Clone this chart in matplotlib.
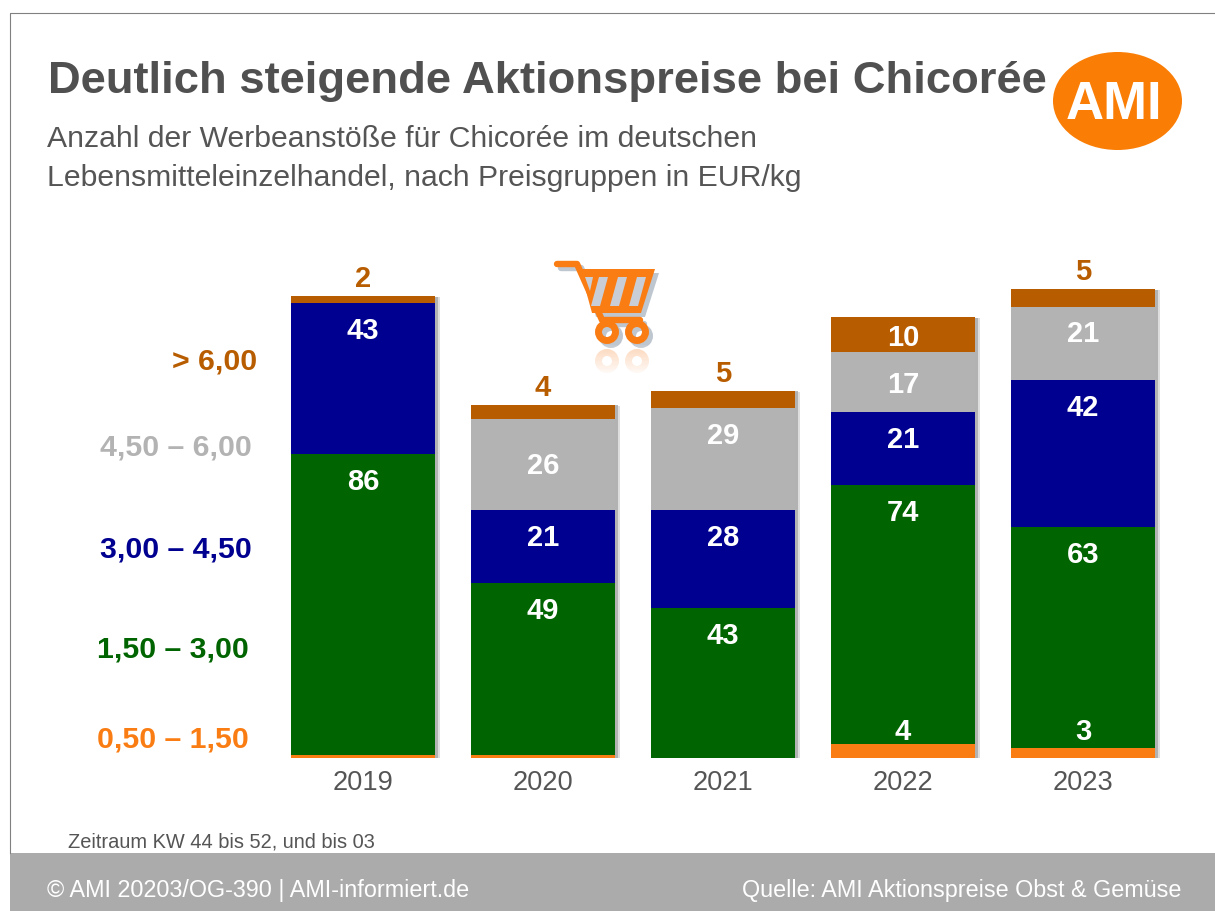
import matplotlib
matplotlib.use("Agg")
import matplotlib.pyplot as plt
import matplotlib.patheffects as pe
from matplotlib.colors import LinearSegmentedColormap
from matplotlib.patches import Ellipse, Polygon, Circle, Rectangle
import numpy as np

plt.rcParams['font.family'] = ['Liberation Sans', 'DejaVu Sans']

years = ['2019', '2020', '2021', '2022', '2023']
groups = ['0,50 – 1,50', '1,50 – 3,00', '3,00 – 4,50', '4,50 – 6,00', '> 6,00']
v_050_150 = [1, 1, 0, 4, 3]
v_150_300 = [86, 49, 43, 74, 63]
v_300_450 = [43, 21, 28, 21, 42]
v_450_600 = [0, 26, 29, 17, 21]
v_600_up = [2, 4, 5, 10, 5]
series = [v_050_150, v_150_300, v_300_450, v_450_600, v_600_up]
colors = ['#FA7D14', '#006400', '#000090', '#B3B3B3', '#B85C00']
group_pos = [(97, 740), (97, 649), (100, 550), (100, 447), (172, 362)]

W, H = 1215, 911
TEXT = '#555555'

fig = plt.figure(figsize=(W / 100, H / 100), dpi=100)

# page decoration in pixel coordinates
bg = fig.add_axes([0, 0, 1, 1])
bg.set_xlim(0, W)
bg.set_ylim(H, 0)
bg.axis('off')
bg.plot([10, 10, W], [853, 13, 13], color='#808080', lw=0.8)
bg.add_patch(Rectangle((10, 853), W - 10, 58, color='#ABABAB', lw=0))

bg.text(48, 81, 'Deutlich steigende Aktionspreise bei Chicorée', fontsize=32.65,
        fontweight='bold', color='#505050', va='center', ha='left')
bg.text(47, 139, 'Anzahl der Werbeanstöße für Chicorée im deutschen', fontsize=21.7,
        color=TEXT, va='center', ha='left')
bg.text(47, 178, 'Lebensmitteleinzelhandel, nach Preisgruppen in EUR/kg', fontsize=21.7,
        color=TEXT, va='center', ha='left')
bg.text(68, 842, 'Zeitraum KW 44 bis 52, und bis 03', fontsize=14.4, color=TEXT,
        va='center', ha='left')
bg.text(47, 890, '© AMI 20203/OG-390 | AMI-informiert.de', fontsize=16.85, color='white',
        va='center', ha='left')
bg.text(1181, 890, 'Quelle: AMI Aktionspreise Obst & Gemüse', fontsize=16.85, color='white',
        va='center', ha='right')

# logo
bg.add_patch(Ellipse((1117.5, 101), 129, 98, color='#FA7D05', lw=0))
bg.text(1114, 105, 'AMI', fontsize=38, fontweight='bold', color='white',
        va='center', ha='center')


def cart(dx, dy, color, slit, zorder=3):
    # pole, rail and handle
    bg.plot(np.array([557, 577, 602, 640]) + dx, np.array([264, 264, 320, 320]) + dy,
            color=color, lw=4.6, solid_capstyle='round', solid_joinstyle='round', zorder=zorder)
    # basket with slits
    bg.add_patch(Polygon(np.array([(580, 269), (655, 269), (641, 313), (592, 313)]) + (dx, dy),
                         closed=True, color=color, lw=0, zorder=zorder))
    if slit:
        bg.add_patch(Polygon([(585, 277), (593, 277), (590, 291)], closed=True,
                             color=slit, lw=0, zorder=zorder))
        for xt in (599, 618, 637):
            bg.add_patch(Polygon([(xt, 277), (xt + 9, 277), (xt + 1, 306), (xt - 8, 306)],
                                 closed=True, color=slit, lw=0, zorder=zorder))
    for cx in (607, 637):
        bg.add_patch(Circle((cx + dx, 332 + dy), 8.5, fill=False, ec=color, lw=5, zorder=zorder))


cart(4, 4, '#BEC6D0', None, zorder=2)
cart(0, 0, '#FA7D14', '#C9CED6', zorder=3)

# reflection of the cart wheels, fading out
for cx in (607, 637):
    bg.add_patch(Circle((cx, 361), 8.5, fill=False, ec='#FCD3B4', lw=5, zorder=2))
fade = np.linspace(0, 1, 30)[:, None]
cmap = LinearSegmentedColormap.from_list('fade', [(1, 1, 1, 0.1), (1, 1, 1, 1)])
bg.imshow(fade, extent=(590, 655, 378, 345), origin='upper', cmap=cmap, aspect='auto', zorder=2.5)
bg.set_xlim(0, W)
bg.set_ylim(H, 0)

# bars: 3.5 px per unit, 180 px between the years
ax = fig.add_axes([273 / W, 1 - 758 / H, 900 / W, 490 / H])
ax.patch.set_alpha(0)
x = np.arange(len(years))
ax.set_xlim(-0.5, 4.5)
ax.set_ylim(0, 140)
for s in ax.spines.values():
    s.set_visible(False)
ax.set_yticks([])
ax.set_xticks(x, years)
ax.tick_params(axis='x', length=0, pad=8.5, labelsize=19.6, labelcolor=TEXT)

totals = np.sum(series, axis=0)
shadow = ax.bar(x, totals, 0.805, color='none', zorder=1)
for b in shadow:
    b.set_path_effects([
        pe.SimplePatchShadow(offset=(3.5, -1), shadow_rgbFace='#C4C4C4', alpha=0.55),
        pe.SimplePatchShadow(offset=(2, -0.5), shadow_rgbFace='#A8A8A8', alpha=0.8),
    ])

bottom = np.zeros(len(years))
LABEL_DROP = {(3, 1): 48, (3, 3): 33, (4, 3): 21}
for si, (vals, c) in enumerate(zip(series, colors)):
    ax.bar(x, vals, 0.805, bottom=bottom, color=c, lw=0, zorder=2)
    tops = bottom + np.array(vals)
    for i, v in enumerate(vals):
        if v == 0 or (si == 0 and v == 1):
            continue
        if si == 0:
            ax.annotate(str(v), (x[i], 0), xytext=(0, 26), textcoords='offset pixels',
                        ha='center', va='center', fontsize=21, fontweight='bold',
                        color='white', zorder=4)
        elif si == 4 and i in (0, 1, 2, 4):
            ax.annotate(str(v), (x[i], tops[i]), xytext=(0, 17), textcoords='offset pixels',
                        ha='center', va='center', fontsize=21, fontweight='bold',
                        color=c, zorder=4)
        else:
            drop = LABEL_DROP.get((si, i), 28)
            ax.annotate(str(v), (x[i], tops[i]), xytext=(0, -drop), textcoords='offset pixels',
                        ha='center', va='center', fontsize=21, fontweight='bold',
                        color='white', zorder=4)
    bottom = tops

# group labels on the left
for name, c, (px, py) in zip(groups, colors, group_pos):
    bg.text(px, py, name, fontsize=21.8, fontweight='bold', color=c, va='center', ha='left')

fig.savefig('out.png', dpi=100)
